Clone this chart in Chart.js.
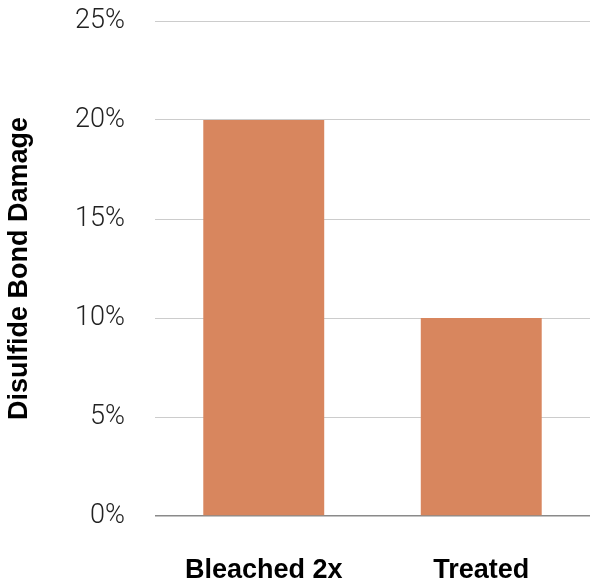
<!DOCTYPE html>
<html>
<head>
<meta charset="utf-8">
<script src="https://cdn.jsdelivr.net/npm/chart.js@4/dist/chart.umd.min.js"></script>
<style>
  html, body { margin: 0; padding: 0; background: #ffffff; }
  #c { display: block; }
</style>
</head>
<body>
<canvas id="c" width="592" height="584"></canvas>
<script>
// Bar chart: disulfide bond damage by hair condition
const categories = ['Bleached 2x', 'Treated'];
const damagePercent = [20, 10];
const yTicks = [0, 5, 10, 15, 20, 25];
const yTitle = 'Disulfide Bond Damage';

const barColor = '#d8865e';

new Chart(document.getElementById('c'), {
  type: 'bar',
  data: {
    labels: categories,
    datasets: [{
      data: damagePercent,
      backgroundColor: barColor,
      borderWidth: 0,
      barPercentage: 0.556,
      categoryPercentage: 1.0
    }]
  },
  options: {
    responsive: false,
    animation: false,
    devicePixelRatio: 1,
    layout: { padding: { top: 21, right: 2, left: 0, bottom: 0 } },
    plugins: {
      legend: { display: false },
      tooltip: { enabled: false }
    },
    scales: {
      x: {
        grid: { display: false },
        border: { display: false },
        ticks: {
          color: '#000000',
          padding: 30,
          font: { family: '"Liberation Sans", Arial, sans-serif', size: 27, weight: 'bold' }
        },
        afterFit: (scale) => { scale.height = 68; }
      },
      y: {
        min: 0,
        max: 25,
        afterBuildTicks: (scale) => { scale.ticks = yTicks.map(v => ({ value: v })); },
        grid: {
          drawTicks: false,
          color: (ctx) => (ctx.tick && ctx.tick.value === 0) ? '#8a8a8a' : '#cccccc',
          lineWidth: (ctx) => (ctx.tick && ctx.tick.value === 0) ? 1.5 : 1
        },
        border: { display: false },
        ticks: {
          color: '#222222',
          padding: 30,
          font: { family: 'Roboto, "Open Sans", sans-serif', size: 27, weight: '300' },
          callback: (v) => v + '%'
        },
        title: {
          display: true,
          text: yTitle,
          color: '#000000',
          padding: { top: 3, bottom: 0 },
          font: { family: '"Liberation Sans", Arial, sans-serif', size: 27, weight: 'bold' }
        },
        afterFit: (scale) => {
          scale.width = 155;
          scale.paddingTop = 0;
          scale.paddingBottom = 0;
        }
      }
    }
  }
});
</script>
</body>
</html>
